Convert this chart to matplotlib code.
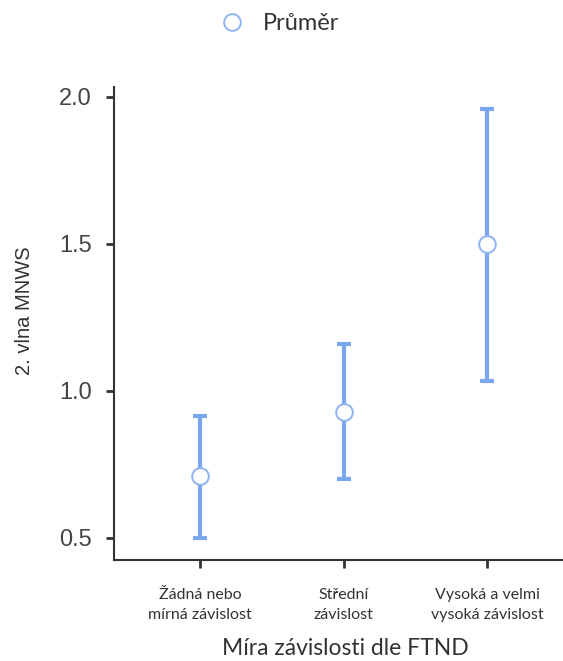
import matplotlib.pyplot as plt
import numpy as np

categories = ["Žádná nebo\nmírná závislost", "Střední\nzávislost", "Vysoká a velmi\nvysoká závislost"]
means = [0.71, 0.93, 1.50]
ci_low = [0.50, 0.70, 1.035]
ci_high = [0.915, 1.16, 1.96]

bar_color = "#7aa7ee"
edge_color = "#8fb4f2"
axis_color = "#333333"

fig = plt.figure(figsize=(5.63, 6.61), dpi=100)
ax = fig.add_axes([0.2025, 0.1528, 0.7975, 0.7156])

x = np.arange(len(categories))
m = np.array(means)
yerr = [m - np.array(ci_low), np.array(ci_high) - m]

ax.errorbar(x, m, yerr=yerr, fmt="none", ecolor=bar_color, elinewidth=3,
            capsize=5, capthick=3, zorder=2)
ax.plot(x, m, "o", markersize=12, markerfacecolor="white",
        markeredgecolor=edge_color, markeredgewidth=1.4, zorder=3,
        label="Průměr")

ax.set_xlim(-0.6, 2.53)
ax.set_ylim(0.425, 2.034)
ax.set_yticks([0.5, 1.0, 1.5, 2.0])
ax.set_yticklabels(["0.5", "1.0", "1.5", "2.0"], family="Liberation Sans",
                   fontsize=17, color="#444444")
ax.set_xticks(x)
ax.set_xticklabels(categories, family="Lato", fontsize=11.5, color=axis_color,
                   linespacing=1.55)

for side in ["top", "right"]:
    ax.spines[side].set_visible(False)
for side in ["left", "bottom"]:
    ax.spines[side].set_color(axis_color)
    ax.spines[side].set_linewidth(1.5)
ax.tick_params(axis="both", length=6, width=2, color=axis_color)
ax.tick_params(axis="x", pad=14)
ax.tick_params(axis="y", pad=10)

ax.set_ylabel("2. vlna MNWS", family="Liberation Sans", fontsize=14.5,
              color=axis_color)
ax.yaxis.set_label_coords(-0.178, 0.528)
ax.set_xlabel("Míra závislosti dle FTND", family="Lato", fontsize=16.5,
              color=axis_color)
ax.xaxis.set_label_coords(0.515, -0.165)

leg = fig.legend(loc="upper center", bbox_to_anchor=(0.49, 1.012), frameon=False,
                 prop={"family": "Lato", "size": 17}, handletextpad=0.5,
                 handlelength=1.6)
for t in leg.get_texts():
    t.set_color(axis_color)

fig.savefig("out.png", dpi=100)
